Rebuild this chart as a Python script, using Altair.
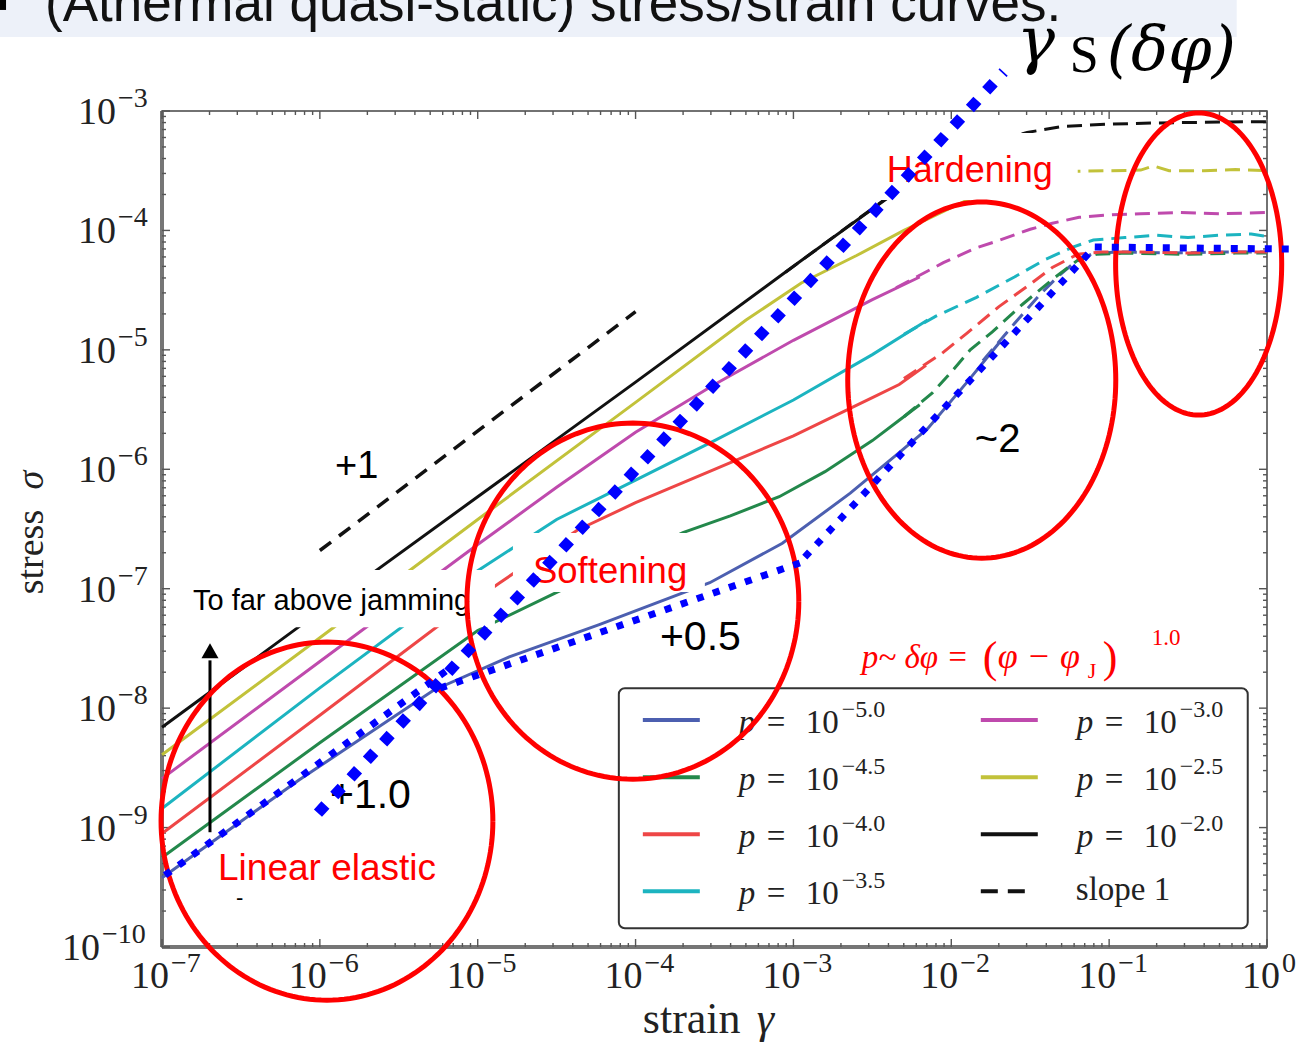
import numpy as np
import pandas as pd
import altair as alt

# ---------------- frame ----------------
W, H = 1105, 836
PAD = {"left": 162, "top": 111, "right": 29, "bottom": 103}
X_DOM = [1e-7, 1.0]
Y_DOM = [1e-10, 1e-3]

# ---------------- curves: log10(strain), log10(stress) ----------------
# pressure exponent of each curve and its colour
p_exponents = ["−5.0", "−4.5", "−4.0", "−3.5", "−3.0", "−2.5", "−2.0"]
curve_colors = ["#4c5fb0", "#23884b", "#ee4646", "#1cb4c0", "#bf4aad", "#c2c23a", "#111111"]

blue_solid_x = [-7.0, -6.13, -5.28, -4.80, -4.23, -3.53, -3.07, -2.64, -2.33, -2.15, -1.90, -1.69]
blue_solid_y = [-9.42, -8.60, -7.85, -7.57, -7.30, -6.95, -6.62, -6.20, -5.86, -5.66, -5.27, -4.93]
blue_dash_x = [-1.80, -1.60, -1.44, -1.32, -1.22, -1.10, -0.90, -0.60, -0.30, 0.0]
blue_dash_y = [-5.09, -4.78, -4.54, -4.38, -4.27, -4.19, -4.18, -4.19, -4.18, -4.18]

green_solid_x = [-7.0, -6.0, -5.0, -4.5, -4.0, -3.70, -3.40, -3.09, -2.80, -2.50, -2.33, -2.20]
green_solid_y = [-9.25, -8.29, -7.35, -7.03, -6.72, -6.53, -6.39, -6.23, -6.02, -5.76, -5.59, -5.46]
green_dash_x = [-2.30, -2.12, -1.99, -1.88, -1.74, -1.55, -1.35, -1.20, -1.08, -0.90, -0.50, -0.20, 0.0]
green_dash_y = [-5.56, -5.36, -5.17, -5.00, -4.85, -4.62, -4.40, -4.25, -4.20, -4.19, -4.20, -4.19, -4.19]

red_solid_x = [-7.0, -6.0, -5.26, -4.86, -4.37, -4.0, -3.5, -3.0, -2.5, -2.33, -2.16]
red_solid_y = [-9.05, -8.06, -7.32, -6.95, -6.51, -6.28, -6.00, -5.72, -5.40, -5.29, -5.13]
red_dash_x = [-2.30, -2.06, -1.90, -1.70, -1.50, -1.36, -1.20, -1.05, -0.80, -0.50, -0.20, 0.0]
red_dash_y = [-5.24, -5.03, -4.86, -4.64, -4.45, -4.31, -4.20, -4.18, -4.18, -4.19, -4.18, -4.18]

cyan_solid_x = [-7.0, -6.0, -5.0, -4.5, -4.0, -3.5, -3.0, -2.5, -2.15]
cyan_solid_y = [-8.84, -7.83, -6.85, -6.42, -6.09, -5.76, -5.42, -5.04, -4.75]
cyan_dash_x = [-2.30, -2.10, -1.84, -1.60, -1.40, -1.23, -1.10, -0.90, -0.70, -0.50, -0.30, -0.10, 0.0]
cyan_dash_y = [-4.87, -4.72, -4.56, -4.39, -4.24, -4.14, -4.08, -4.06, -4.04, -4.06, -4.04, -4.03, -4.05]

magenta_solid_x = [-7.0, -6.0, -5.0, -4.5, -4.0, -3.5, -3.0, -2.5, -2.2]
magenta_solid_y = [-8.59, -7.61, -6.63, -6.15, -5.69, -5.29, -4.92, -4.58, -4.39]
magenta_dash_x = [-2.35, -2.05, -1.85, -1.69, -1.50, -1.36, -1.19, -1.0, -0.8, -0.55, -0.3, 0.0]
magenta_dash_y = [-4.48, -4.27, -4.15, -4.08, -3.99, -3.94, -3.89, -3.87, -3.86, -3.85, -3.86, -3.85]

yellow_solid_x = [-7.0, -6.0, -5.0, -4.0, -3.3, -2.95, -2.6, -2.3, -2.0, -1.9]
yellow_solid_y = [-8.39, -7.41, -6.42, -5.44, -4.75, -4.44, -4.21, -4.00, -3.81, -3.75]
yellow_dash_x = [-1.97, -1.75, -1.55, -1.35, -1.2, -1.0, -0.8, -0.72, -0.62, -0.4, -0.2, 0.0]
yellow_dash_y = [-3.79, -3.66, -3.58, -3.52, -3.505, -3.50, -3.495, -3.46, -3.50, -3.50, -3.49, -3.50]

black_solid_x = [-7.0, -6.0, -5.0, -4.0, -3.0, -2.5, -2.3]
black_solid_y = [-8.16, -7.19, -6.23, -5.27, -4.30, -3.82, -3.63]
black_dash_x = [-3.05, -2.7, -2.4, -2.1, -1.8, -1.52, -1.3, -1.0, -0.7, -0.4, -0.15, 0.0]
black_dash_y = [-4.35, -4.01, -3.72, -3.47, -3.28, -3.18, -3.13, -3.11, -3.10, -3.095, -3.09, -3.09]

# slope-1 guide
slope1_x = [-6.0, -4.0]
slope1_y = [-6.68, -4.68]

# tick decades
x_decades = list(range(-7, 1))
y_decades = list(range(-10, -2))

solid_branches = [
    (blue_solid_x, blue_solid_y), (green_solid_x, green_solid_y), (red_solid_x, red_solid_y),
    (cyan_solid_x, cyan_solid_y), (magenta_solid_x, magenta_solid_y),
    (yellow_solid_x, yellow_solid_y), (black_solid_x, black_solid_y),
]
dash_branches = [
    (blue_dash_x, blue_dash_y), (green_dash_x, green_dash_y), (red_dash_x, red_dash_y),
    (cyan_dash_x, cyan_dash_y), (magenta_dash_x, magenta_dash_y),
    (yellow_dash_x, yellow_dash_y), (black_dash_x, black_dash_y),
]


def branch_frame(branches):
    parts = []
    for name, (bx, by) in zip(p_exponents, branches):
        parts.append(pd.DataFrame({
            "curve": name, "i": np.arange(len(bx)),
            "strain": 10.0 ** np.asarray(bx), "stress": 10.0 ** np.asarray(by)}))
    return pd.concat(parts, ignore_index=True)


solid_df = branch_frame(solid_branches)
dash_df = branch_frame(dash_branches)


def X(field="strain"):
    return alt.X(field, type="quantitative", scale=alt.Scale(type="log", domain=X_DOM), axis=None)


def Y(field="stress"):
    return alt.Y(field, type="quantitative", scale=alt.Scale(type="log", domain=Y_DOM), axis=None)


def pt(lx, ly):
    return {"strain": 10.0 ** lx, "stress": 10.0 ** ly}


def txt(s, lx, ly, size, color="#000000", font="Liberation Sans", style="normal",
        align="left", baseline="alphabetic", angle=0):
    df = pd.DataFrame([{**pt(lx, ly), "t": s}])
    return alt.Chart(df).mark_text(
        fontSize=size, font=font, fontStyle=style, color=color, align=align,
        baseline=baseline, angle=angle
    ).encode(x=X(), y=Y(), text="t:N")


def box(lx1, lx2, ly1, ly2, fill="white", **kw):
    df = pd.DataFrame([{"x1": 10.0 ** lx1, "x2": 10.0 ** lx2, "y1": 10.0 ** ly1, "y2": 10.0 ** ly2}])
    return alt.Chart(df).mark_rect(fill=fill, **kw).encode(
        x=X("x1"), x2=alt.X2("x2"), y=Y("y1"), y2=alt.Y2("y2"))


def seg(points, color, width, dash):
    df = pd.DataFrame([{**pt(a, b), "i": k} for k, (a, b) in enumerate(points)])
    return alt.Chart(df).mark_line(color=color, strokeWidth=width, strokeCap="butt",
                                   strokeDash=dash).encode(x=X(), y=Y(), order="i:Q")


layers = []

# ---------------- slide header ----------------
layers.append(box(-8.1, -0.192, -1.9, -2.380, fill="#edf1f9"))
layers.append(box(-8.1, -7.988, -1.9, -2.154, fill="#000000"))
layers.append(txt("(Athermal quasi-static) stress/strain curves.", -7.741, -2.246, 53, color="#111111"))

# ---------------- frame: thick left/bottom spines ----------------
spine_df = pd.DataFrame([{"x1": X_DOM[0], "x2": X_DOM[1], "y1": Y_DOM[0], "y2": Y_DOM[1]}])
layers.append(alt.Chart(spine_df).mark_rule(color="#767676", strokeWidth=4).encode(
    x=X("x1"), y=Y("y1"), y2=alt.Y2("y2")))
layers.append(alt.Chart(spine_df).mark_rule(color="#767676", strokeWidth=4).encode(
    x=X("x1"), x2=alt.X2("x2"), y=Y("y1")))

# ---------------- inward ticks on all four sides ----------------
x_major = pd.DataFrame({"v": [10.0 ** k for k in x_decades]})
y_major = pd.DataFrame({"v": [10.0 ** k for k in y_decades]})
x_minor = pd.DataFrame({"v": [m * 10.0 ** k for k in x_decades[:-1] for m in range(2, 10)]})
y_minor = pd.DataFrame({"v": [m * 10.0 ** k for k in y_decades[:-1] for m in range(2, 10)]})
tick_col = "#555555"
for d, ln in ((x_major, 8), (x_minor, 4)):
    layers.append(alt.Chart(d).mark_rule(color=tick_col, strokeWidth=1.4).encode(
        x=X("v"), y=alt.value(H), y2=alt.value(H - ln)))
    layers.append(alt.Chart(d).mark_rule(color=tick_col, strokeWidth=1.4).encode(
        x=X("v"), y=alt.value(0), y2=alt.value(ln)))
for d, ln in ((y_major, 8), (y_minor, 4)):
    layers.append(alt.Chart(d).mark_rule(color=tick_col, strokeWidth=1.4).encode(
        y=Y("v"), x=alt.value(0), x2=alt.value(ln)))
    layers.append(alt.Chart(d).mark_rule(color=tick_col, strokeWidth=1.4).encode(
        y=Y("v"), x=alt.value(W), x2=alt.value(W - ln)))

# ---------------- tick labels: 10 with raised exponent ----------------
serif = "Liberation Serif"
lab_col = "#222222"
xl = pd.DataFrame({"v": [10.0 ** k for k in x_decades],
                   "e": [("−" + str(-k)) if k < 0 else str(k) for k in x_decades],
                   "neg": [k < 0 for k in x_decades]})
for neg, dxb in ((True, 7), (False, 13)):
    d = xl[xl["neg"] == neg]
    layers.append(alt.Chart(d).mark_text(text="10", font=serif, fontSize=38, align="right",
                                         baseline="alphabetic", dx=dxb, dy=41, color=lab_col).encode(
        x=X("v"), y=alt.value(H)))
    layers.append(alt.Chart(d).mark_text(font=serif, fontSize=28, align="left", baseline="alphabetic",
                                         dx=dxb + 2, dy=25, color=lab_col).encode(
        x=X("v"), y=alt.value(H), text="e:N"))
yl = pd.DataFrame({"v": [10.0 ** k for k in y_decades],
                   "e": ["−" + str(-k) for k in y_decades],
                   "wide": [k <= -10 for k in y_decades]})
for wide, dxb in ((False, -46), (True, -62)):
    d = yl[yl["wide"] == wide]
    layers.append(alt.Chart(d).mark_text(text="10", font=serif, fontSize=38, align="right",
                                         baseline="alphabetic", dx=dxb, dy=13, color=lab_col).encode(
        y=Y("v"), x=alt.value(0)))
    layers.append(alt.Chart(d).mark_text(font=serif, fontSize=28, align="left", baseline="alphabetic",
                                         dx=dxb + 2, dy=-4, color=lab_col).encode(
        y=Y("v"), x=alt.value(0), text="e:N"))

# axis titles
layers.append(txt("stress", -7.754, -6.693, 38, font=serif, align="center", angle=270, color=lab_col))
layers.append(txt("σ", -7.754, -6.090, 38, font=serif, style="italic", align="center", angle=270, color=lab_col))
layers.append(txt("strain", -3.954, -10.722, 44, font=serif, color=lab_col))
layers.append(txt("γ", -3.232, -10.722, 44, font=serif, style="italic", color=lab_col))

# ---------------- curves ----------------
cscale = alt.Scale(domain=p_exponents, range=curve_colors)
layers.append(alt.Chart(solid_df).mark_line(strokeWidth=3).encode(
    x=X(), y=Y(), color=alt.Color("curve:N", scale=cscale, legend=None), order="i:Q"))
layers.append(alt.Chart(dash_df).mark_line(strokeWidth=3, strokeDash=[15, 8]).encode(
    x=X(), y=Y(), color=alt.Color("curve:N", scale=cscale, legend=None), order="i:Q"))
slope_df = pd.DataFrame({"strain": 10.0 ** np.array(slope1_x), "stress": 10.0 ** np.array(slope1_y)})
layers.append(alt.Chart(slope_df).mark_line(color="#111111", strokeWidth=3.5, strokeDash=[14, 10]).encode(
    x=X(), y=Y()))

# ---------------- white text boxes ----------------
layers.append(box(-6.867, -4.891, -6.844, -7.322))
layers.append(box(-4.777, -3.561, -6.534, -7.028))
layers.append(box(-2.453, -1.199, -3.184, -3.745))

# ---------------- legend ----------------
layers.append(box(-4.106, -0.122, -7.833, -9.843, stroke="#333333", strokeWidth=2, cornerRadius=6))
legend_rows = [-8.100, -8.578, -9.055, -9.533]
legend_cols = [-3.954, -1.813]
leg = pd.DataFrame({
    "curve": p_exponents,
    "strain": [10.0 ** legend_cols[i // 4] for i in range(7)],
    "strain2": [10.0 ** (legend_cols[i // 4] + 0.361) for i in range(7)],
    "stress": [10.0 ** legend_rows[i % 4] for i in range(7)],
})
layers.append(alt.Chart(leg).mark_rule(strokeWidth=4).encode(
    x=X(), x2=alt.X2("strain2"), y=Y(), color=alt.Color("curve:N", scale=cscale, legend=None)))
for s, dx, sty in (("p", 96, "italic"), ("=", 124, "normal"), ("10", 163, "normal")):
    layers.append(alt.Chart(leg).mark_text(text=s, font=serif, fontStyle=sty, fontSize=33, align="left",
                                           baseline="alphabetic", dx=dx, dy=13, color=lab_col).encode(
        x=X(), y=Y()))
layers.append(alt.Chart(leg).mark_text(font=serif, fontSize=24, align="left", baseline="alphabetic",
                                       dx=199, dy=-3, color=lab_col).encode(x=X(), y=Y(), text="curve:N"))
slope_leg = pd.DataFrame([{"strain": 10.0 ** legend_cols[1], "strain2": 10.0 ** (legend_cols[1] + 0.279),
                           "stress": 10.0 ** legend_rows[3]}])
layers.append(alt.Chart(slope_leg).mark_rule(strokeWidth=4, color="#111", strokeDash=[17, 10]).encode(
    x=X(), x2=alt.X2("strain2"), y=Y()))
layers.append(alt.Chart(slope_leg).mark_text(text="slope 1", font=serif, fontSize=33, align="left",
                                             baseline="alphabetic", dx=95, dy=9, color=lab_col).encode(
    x=X(), y=Y()))

# ---------------- arrow ----------------
arrow_df = pd.DataFrame([{"strain": 10.0 ** -6.696, "y1": 10.0 ** -9.039, "y2": 10.0 ** -7.60}])
layers.append(alt.Chart(arrow_df).mark_rule(color="#000", strokeWidth=3).encode(
    x=X(), y=Y("y1"), y2=alt.Y2("y2")))
head_df = pd.DataFrame([pt(-6.696, -7.519)])
layers.append(alt.Chart(head_df).mark_point(shape="M0,-0.88L1,0.88L-1,0.88Z", size=289, filled=True,
                                            color="#000", opacity=1).encode(x=X(), y=Y()))

# ---------------- annotation texts ----------------
red = "#ff0000"
layers.append(txt("+1", -5.904, -6.074, 38))
layers.append(txt("+1.0", -5.936, -8.838, 41))
layers.append(txt("+0.5", -3.846, -7.514, 41))
layers.append(txt("~2", -1.851, -5.856, 40))
layers.append(txt("To far above jamming", -6.804, -7.179, 29))
layers.append(txt("Linear elastic", -6.645, -9.441, 37, color=red))
layers.append(txt("Softening", -4.650, -6.953, 36.5, color=red))
layers.append(txt("Hardening", -2.409, -3.595, 36, color=red))
layers.append(txt("-", -6.531, -9.650, 22))

# scaling law in red
layers.append(txt("p~ δφ =", -2.567, -7.665, 33, color=red, font=serif, style="italic"))
layers.append(txt("(", -1.800, -7.698, 44, color=red, font=serif))
layers.append(txt("φ − φ", -1.706, -7.665, 36, color=red, font=serif, style="italic"))
layers.append(txt("J", -1.136, -7.749, 22, color=red, font=serif))
layers.append(txt(")", -1.041, -7.698, 44, color=red, font=serif))
layers.append(txt("1.0", -0.730, -7.472, 23, color=red, font=serif))

# gamma_S(delta phi) label
layers.append(txt("γ", -1.585, -2.590, 64, font="DejaVu Serif", style="italic"))
layers.append(txt("S", -1.250, -2.673, 52, font=serif))
layers.append(txt("(δφ)", -1.015, -2.657, 62, font="DejaVu Serif", style="italic"))

# ---------------- red ellipses ----------------
ell_centers = [(-5.955, -8.946), (-4.017, -7.104), (-1.807, -5.253), (-0.433, -4.281)]
ell_radii = [(1.051, 1.499), (1.051, 1.491), (0.849, 1.491), (0.526, 1.265)]
tt = np.linspace(0, 2 * np.pi, 181)
ell_rows = []
for k, ((cx, cy), (rx, ry)) in enumerate(zip(ell_centers, ell_radii)):
    for i, t in enumerate(tt):
        ell_rows.append({"e": k, "i": i, **pt(cx + rx * np.cos(t), cy + ry * np.sin(t))})
layers.append(alt.Chart(pd.DataFrame(ell_rows)).mark_line(color=red, strokeWidth=5).encode(
    x=X(), y=Y(), detail="e:N", order="i:Q"))

# ---------------- blue dotted guide lines ----------------
blue = "#0000ff"
layers.append(seg([(-6.981, -9.399), (-5.176, -7.665)], blue, 7, [7, 10]))
layers.append(seg([(-5.239, -7.833), (-2.909, -6.761)], blue, 7, [7, 10]))
layers.append(seg([(-2.928, -6.735), (-1.091, -4.139)], blue, 7, [7, 10]))
layers.append(seg([(-1.091, -4.139), (0.182, -4.156)], blue, 7, [7, 10]))
layers.append(seg([(-6.012, -8.879), (-1.668, -2.673)], blue, 11, [11, 13]))

chart = alt.layer(*layers).properties(
    width=W, height=H, padding=PAD,
    autosize=alt.AutoSizeParams(type="none"),
    background="white",
).configure_view(stroke="#444444", strokeWidth=1.5)

chart.save("out.html", embed_options={"renderer": "svg", "actions": False})
